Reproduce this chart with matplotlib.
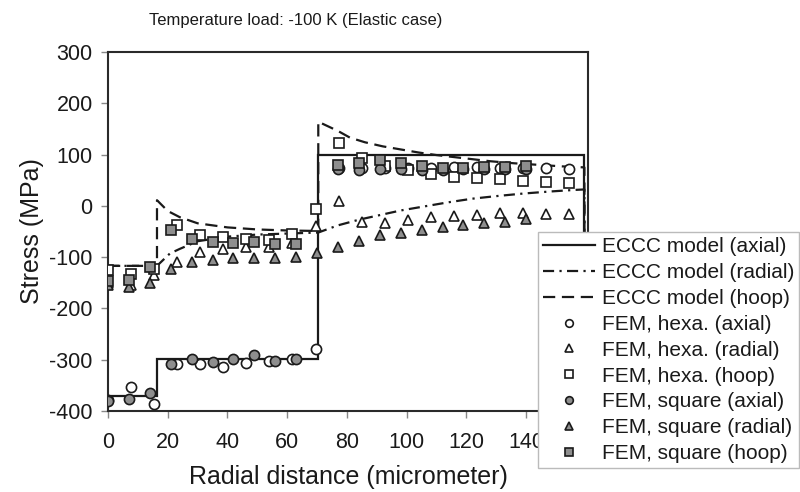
import numpy as np
import matplotlib
matplotlib.use("Agg")
import matplotlib.pyplot as plt
from matplotlib.lines import Line2D

plt.rcParams['font.family'] = ['Liberation Sans', 'DejaVu Sans']
plt.rcParams['axes.unicode_minus'] = False

# ---- model curves (ECCC) ----
model_axial_x = [0, 16.4, 16.4, 70.4, 70.4, 159.5, 159.5]
model_axial_y = [-370, -370, -299, -299, 100, 100, -150]

model_radial_x = [0, 16.4, 20.7, 24, 30, 40, 50, 60, 70.4, 77, 84, 91, 98, 106, 114, 122, 130, 139, 148, 156, 159.5, 159.5]
model_radial_y = [-117, -117, -93, -84, -69, -60, -56, -54, -52, -38, -27, -18, -9, -1, 7, 14, 19, 24, 28, 31, 32, -150]

model_hoop_x = [0, 16.4, 16.4, 20, 24, 30, 40, 50, 60, 70.4, 70.4, 77, 81, 86, 92, 98, 104, 110, 116, 122, 128, 136, 144, 152, 159.5, 159.5]
model_hoop_y = [-117, -117, 11, -10, -22, -34, -42, -46, -48, -49, 164, 146, 133, 124, 116, 110, 104, 99, 95, 91, 87, 83, 80, 77, 75, -150]

# ---- FEM, hexagonal ----
hexa_x = [0, 7.7, 15.4, 23.2, 30.9, 38.6, 46.3, 54.0, 61.7, 69.5, 77.2, 84.9, 92.6, 100.4,
          108.1, 115.8, 123.5, 131.2, 139.0, 146.7, 154.4]
hexa_axial = [-378, -354, -387, -309, -308, -315, -307, -302, -299, -280, 74, 73, 74, 73,
              73, 76, 75, 73, 73, 74, 71]
hexa_radial = [-150, -155, -135, -109, -89, -84, -81, -81, -72, -40, 10, -31, -33, -28,
               -21, -19, -18, -13, -13, -15, -16]
hexa_hoop = [-125, -132, -124, -37, -56, -61, -65, -67, -55, -7, 123, 94, 78, 69,
             62, 57, 54, 52, 49, 47, 44]

# ---- FEM, square ----
square_x = [0, 7, 14, 21, 28, 35, 42, 49, 56, 63, 70, 77, 84, 91, 98, 105, 112, 119, 126, 133, 140]
square_axial = [-380, -377, -364, -309, -299, -304, -299, -290, -302, -299, np.nan,
                71, 70, 72, 71, 70, 70, 71, 71, 72, 72]
square_radial = [-155, -158, -151, -123, -109, -106, -101, -102, -101, -100, -92,
                 -81, -68, -57, -52, -47, -41, -37, -34, -31, -26]
square_hoop = [-147, -145, -119, -48, -65, -70, -72, -71, -74, -74, np.nan,
               80, 84, 90, 84, 78, 74, 74, 75, 76, 78]

x_ticks = [0, 20, 40, 60, 80, 100, 120, 140, 160]
y_ticks = [-400, -300, -200, -100, 0, 100, 200, 300]

gray = '#8e8e8e'
lc = '#1a1a1a'
dash_style = (5.5, 3.0)
dashdot_style = (5.0, 2.4, 1.0, 2.4)

fig = plt.figure(figsize=(8, 4.92), dpi=100)
ax = fig.add_axes([108 / 800, 1 - 411 / 492, 480 / 800, 359 / 492])

lw = 1.6
ax.plot(model_axial_x, model_axial_y, color=lc, lw=lw, solid_joinstyle='miter', zorder=2)
ax.plot(model_radial_x, model_radial_y, color=lc, lw=lw, dashes=dashdot_style, zorder=2)
ax.plot(model_hoop_x, model_hoop_y, color=lc, lw=lw, dashes=dash_style, zorder=2)

ms = 7.3
mew = 1.2
ax.plot(hexa_x, hexa_axial, 'o', ms=ms, mfc='white', mec=lc, mew=mew, ls='none', zorder=3)
ax.plot(hexa_x, hexa_radial, '^', ms=ms, mfc='white', mec=lc, mew=mew, ls='none', zorder=3)
ax.plot(hexa_x, hexa_hoop, 's', ms=ms, mfc='white', mec=lc, mew=mew, ls='none', zorder=3)
ax.plot(square_x, square_axial, 'o', ms=ms, mfc=gray, mec=lc, mew=mew, ls='none', zorder=4)
ax.plot(square_x, square_radial, '^', ms=ms, mfc=gray, mec=lc, mew=mew, ls='none', zorder=4)
ax.plot(square_x, square_hoop, 's', ms=ms, mfc=gray, mec=lc, mew=mew, ls='none', zorder=4)

ax.set_xlim(0, 160.7)
ax.set_ylim(-400, 300)
ax.set_xticks(x_ticks)
ax.set_yticks(y_ticks)
for s in ax.spines.values():
    s.set_linewidth(1.5)
    s.set_color('#2a2a2a')
ax.tick_params(axis='both', direction='out', length=5, width=1, color='#888888',
               labelsize=15.5, labelcolor='#1a1a1a')
ax.tick_params(axis='x', pad=10)
ax.tick_params(axis='y', pad=6)

ax.set_xlabel('Radial distance (micrometer)', fontsize=18, color='#1a1a1a', labelpad=9)
ax.set_ylabel('Stress (MPa)', fontsize=18, color='#1a1a1a', labelpad=4)

fig.text(296 / 800, 1 - 21 / 492, 'Temperature load: -100 K (Elastic case)',
         ha='center', va='center', fontsize=12, color='#1a1a1a')

hms = 5.5
handles = [
    Line2D([], [], color=lc, lw=lw),
    Line2D([], [], color=lc, lw=lw, dashes=dashdot_style),
    Line2D([], [], color=lc, lw=lw, dashes=dash_style),
    Line2D([], [], marker='o', ls='none', ms=hms, mfc='white', mec=lc, mew=mew),
    Line2D([], [], marker='^', ls='none', ms=hms, mfc='white', mec=lc, mew=mew),
    Line2D([], [], marker='s', ls='none', ms=hms, mfc='white', mec=lc, mew=mew),
    Line2D([], [], marker='o', ls='none', ms=hms, mfc=gray, mec=lc, mew=mew),
    Line2D([], [], marker='^', ls='none', ms=hms, mfc=gray, mec=lc, mew=mew),
    Line2D([], [], marker='s', ls='none', ms=hms, mfc=gray, mec=lc, mew=mew),
]
labels = ['ECCC model (axial)', 'ECCC model (radial)', 'ECCC model (hoop)',
          'FEM, hexa. (axial)', 'FEM, hexa. (radial)', 'FEM, hexa. (hoop)',
          'FEM, square (axial)', 'FEM, square (radial)', 'FEM, square (hoop)']
leg = fig.legend(handles, labels, loc='upper left',
                 bbox_to_anchor=(538 / 800, 1 - 232 / 492), borderaxespad=0,
                 fontsize=15, handlelength=2.5, handletextpad=0.3, labelspacing=0.33,
                 borderpad=0.25, fancybox=False, framealpha=1, edgecolor='#bbbbbb')
leg.get_frame().set_linewidth(1.0)
for t in leg.get_texts():
    t.set_color('#1a1a1a')

fig.savefig('out.png', dpi=100)
